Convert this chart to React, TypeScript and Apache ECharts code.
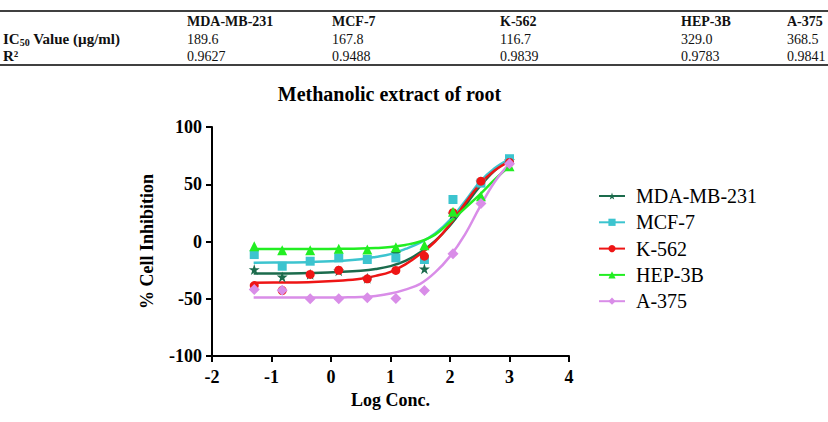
import React, { useEffect, useRef } from "react";
import * as echarts from "echarts";

// Dose-response data: log10 concentration (µg/ml) vs % cell inhibition
const logConc = [-1.29, -0.82, -0.35, 0.13, 0.61, 1.09, 1.57, 2.05, 2.52, 3.0];

const mdaPoints = [-24.5, -30.9, -28.5, -25.5, -32, -10, -23.9, 24, 52, 71];
const mcfPoints = [-11.4, -21.6, -17.2, -14.3, -15.7, -14.3, -15.7, 36.7, 51, 72.3];
const k562Points = [-38.5, -42.8, -28.8, -25.1, -32.6, -25.3, -12.8, 25.1, 52.7, 69];
const hepPoints = [-4.1, -7.6, -7.6, -6.4, -7.0, -5.0, -3.2, 26, 39.6, 65.8];
const a375Points = [-42, -42.6, -50.1, -50.1, -49.2, -49.8, -42.8, -10.8, 33.2, 67.9];

// Fitted sigmoidal curves, sampled along the log axis
const curveX = [-1.3, -0.8, -0.3, 0.2, 0.5, 0.75, 1.0, 1.25, 1.5, 1.75, 2.0, 2.25, 2.5, 2.75, 3.0];
const mdaCurve = [-28, -28, -27.5, -26.5, -25.5, -24, -21.5, -17, -9.5, 0.5, 14, 31, 48, 62, 72];
const mcfCurve = [-18.5, -18.3, -17.8, -16.8, -15.5, -13.5, -11, -6.5, -1, 7, 19, 35, 52, 64, 72];
const k562Curve = [-36, -35.8, -35.3, -34, -32.5, -30, -26.5, -20, -11, 0, 15, 33, 50, 62, 70];
const hepCurve = [-6.5, -6.5, -6.5, -6.4, -6.2, -5.7, -4.8, -3, 0, 6, 17, 29, 41, 54, 66];
const a375Curve = [-49, -49, -49, -48.8, -48.5, -47.5, -45.5, -42, -37, -27, -13, 6, 30, 52, 68];

// Summary table
const cellLines = ["MDA-MB-231", "MCF-7", "K-562", "HEP-3B", "A-375"];
const ic50Values = ["189.6", "167.8", "116.7", "329.0", "368.5"];
const r2Values = ["0.9627", "0.9488", "0.9839", "0.9783", "0.9841"];

const STAR =
  "path://M0,-1 L0.2245,-0.309 L0.951,-0.309 L0.363,0.118 L0.588,0.809 L0,0.382 L-0.588,0.809 L-0.363,0.118 L-0.951,-0.309 L-0.2245,-0.309 Z";

const lines = [
  { name: "MDA-MB-231", color: "#1b6b4c", symbol: STAR, size: 11, pts: mdaPoints, curve: mdaCurve },
  { name: "MCF-7", color: "#3cc4cf", symbol: "rect", size: 9, pts: mcfPoints, curve: mcfCurve },
  { name: "K-562", color: "#ee1515", symbol: "circle", size: 9, pts: k562Points, curve: k562Curve },
  { name: "HEP-3B", color: "#22ee22", symbol: "triangle", size: 10, pts: hepPoints, curve: hepCurve },
  { name: "A-375", color: "#d98de8", symbol: "diamond", size: 11, pts: a375Points, curve: a375Curve },
];

const FONT = "'Liberation Serif', 'Times New Roman', serif";
const colX = [187, 332, 500, 681, 787];

function buildTable(): any[] {
  const els: any[] = [];
  const base = { fontFamily: FONT, fill: "#111", verticalAlign: "middle", align: "left" };
  els.push({ type: "line", shape: { x1: 0, y1: 11, x2: 828, y2: 11 }, style: { stroke: "#000", lineWidth: 1.5 } });
  els.push({ type: "line", shape: { x1: 0, y1: 65, x2: 828, y2: 65 }, style: { stroke: "#000", lineWidth: 1.5 } });
  cellLines.forEach((c, i) => {
    els.push({ type: "text", x: colX[i], y: 21, style: { ...base, text: c, fontSize: 14, fontWeight: "bold" } });
    els.push({ type: "text", x: colX[i], y: 39, style: { ...base, text: ic50Values[i], fontSize: 14 } });
    els.push({ type: "text", x: colX[i], y: 56, style: { ...base, text: r2Values[i], fontSize: 14 } });
  });
  els.push({
    type: "text",
    x: 3,
    y: 39,
    style: {
      ...base,
      text: "{b|IC}{s|50}{b| Value (µg/ml)}",
      rich: {
        b: { fontSize: 15, fontWeight: "bold", fontFamily: FONT, lineHeight: 16, fill: "#111" },
        s: { fontSize: 10, fontWeight: "bold", fontFamily: FONT, lineHeight: 10, verticalAlign: "bottom", fill: "#111" },
      },
    },
  });
  els.push({ type: "text", x: 3, y: 56, style: { ...base, text: "R²", fontSize: 15, fontWeight: "bold" } });
  els.push({
    type: "text",
    x: 389.5,
    y: 94,
    style: {
      ...base,
      align: "center",
      text: "Methanolic extract of root",
      fontSize: 20,
      fontWeight: "bold",
      fill: "#000",
    },
  });
  return els;
}

export default function App() {
  const ref = useRef<HTMLDivElement>(null);

  useEffect(() => {
    if (!ref.current) return;
    const chart = echarts.init(ref.current, undefined, { renderer: "svg" });

    const series: any[] = [];
    lines.forEach((l) => {
      series.push({
        name: l.name,
        type: "line",
        data: curveX.map((x, i) => [x, l.curve[i]]),
        smooth: 0.4,
        symbol: l.symbol,
        symbolSize: l.size,
        showSymbol: false,
        lineStyle: { color: l.color, width: 2.5 },
        itemStyle: { color: l.color },
        z: 2,
      });
    });
    lines.forEach((l) => {
      series.push({
        name: l.name,
        type: "scatter",
        data: logConc.map((x, i) => [x, l.pts[i]]),
        symbol: l.symbol,
        symbolSize: l.size,
        itemStyle: { color: l.color, opacity: 1 },
        z: 3,
      });
    });

    const axisCommon = {
      axisLine: { show: true, onZero: false, lineStyle: { color: "#000", width: 2 } },
      axisTick: { show: true, length: 6, lineStyle: { color: "#000", width: 2 } },
      splitLine: { show: false },
      axisLabel: { color: "#000", fontSize: 18, fontWeight: "bold", fontFamily: FONT },
      nameTextStyle: { color: "#000", fontSize: 18, fontWeight: "bold", fontFamily: FONT },
    };

    chart.setOption({
      animation: false,
      backgroundColor: "#fff",
      textStyle: { fontFamily: FONT },
      graphic: buildTable(),
      grid: { left: 212, top: 127, width: 357, height: 229, containLabel: false },
      xAxis: {
        type: "value",
        min: -2,
        max: 4,
        interval: 1,
        name: "Log Conc.",
        nameLocation: "middle",
        nameGap: 32,
        ...axisCommon,
        axisLabel: { ...axisCommon.axisLabel, margin: 12 },
      },
      yAxis: {
        type: "value",
        min: -100,
        max: 100,
        interval: 50,
        name: "% Cell Inhibition",
        nameLocation: "middle",
        nameGap: 56,
        ...axisCommon,
        axisLabel: { ...axisCommon.axisLabel, margin: 10 },
      },
      legend: {
        orient: "vertical",
        left: 593,
        top: 181,
        itemWidth: 26,
        itemHeight: 9,
        itemGap: 6.3,
        data: lines.map((l) => l.name),
        textStyle: { color: "#000", fontSize: 20, fontFamily: FONT, lineHeight: 19, padding: [0, 0, 0, 6] },
      },
      series,
    });

    return () => chart.dispose();
  }, []);

  return (
    <div
      ref={ref}
      style={{ position: "fixed", left: 0, top: 0, width: 828, height: 422, background: "#fff" }}
    />
  );
}
